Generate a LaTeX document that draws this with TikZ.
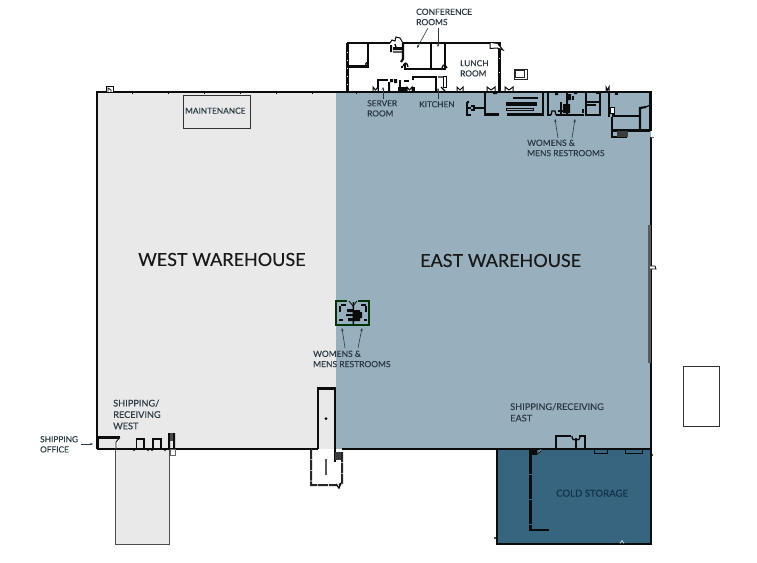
\documentclass[tikz,border=0pt]{standalone}
\usepackage{fontspec}
\setmainfont{Lato}[UprightFeatures={FakeBold=0.25}]
\usetikzlibrary{arrows.meta}
\definecolor{westc}{HTML}{E9E9E9}
\definecolor{eastc}{HTML}{98AFBD}
\definecolor{coldc}{HTML}{37657F}
\definecolor{wallc}{HTML}{0A0C0E}
\definecolor{txtc}{HTML}{2B3A44}
\definecolor{coldt}{HTML}{12324A}
\tikzset{
  x=1pt,y=-1pt,
  lab/.style={font=\fontsize{8.3}{10.2}\selectfont,text=txtc,align=left,inner sep=0pt,anchor=north west},
  labm/.style={lab,font=\fontsize{8.5}{10.3}\selectfont},
  labl/.style={lab,font=\fontsize{9.2}{11.4}\selectfont},
  big/.style={font=\fontsize{18}{20}\selectfont,text=black!90,inner sep=0pt},
  wall/.style={draw=wallc,line width=2.1pt},
  thick wall/.style={draw=wallc,line width=2.5pt},
  thin wall/.style={draw=wallc,line width=1.3pt},
  ptr/.style={draw=txtc,line width=.6pt,-{Stealth[length=3pt,width=2.4pt]}},
  door/.style={draw=wallc,line width=.9pt,fill=white},
  notch/.style={draw=wallc,line width=1pt,fill=white},
}
\begin{document}
\begin{tikzpicture}
\useasboundingbox (0,0) rectangle (757,562);
\fill[white] (0,0) rectangle (757,562);
% areas
\fill[westc] (97,92) rectangle (336,449);
\fill[eastc] (336,92) rectangle (651,449);
\fill[coldc] (497,449) rectangle (651,544);
\draw[draw=black!70,line width=.8pt,fill=westc] (115,449) rectangle (169,544);
\draw[draw=black!80,line width=.8pt] (683,366) rectangle (719,426);
\draw[draw=black!80,line width=1pt] (183,95) rectangle (250,128);
% perimeter
\draw[wall] (97,449) -- (97,92) -- (650.5,92) -- (650.5,131);
\draw[wall] (651,137) -- (651,449);
\foreach \xx in {132,168,204,240,276,312,356}{\fill[wallc] (\xx,91.5) rectangle (\xx+1,94);}
\draw[notch] (106,92) -- (106,86) -- (113,86) -- (113,92);
\draw[draw=wallc,line width=.7pt] (108,92) -- (108,88) -- (111,90) -- (111,92);
\fill[black!65] (648,225) rectangle (651,363);
\draw[door] (650,266) -- (655,266) -- (656,269) -- (650,269);
\draw[draw=black!60,line width=.7pt] (651,137) -- (654,137);
% south wall
\draw[wall] (97,449) -- (175,449);
\draw[wall] (175,449) -- (318,449);
\draw[wall] (342,449) -- (651,449);
% cold storage
\draw[wall] (497,449) -- (497,544) -- (651,544) -- (651,449);
\draw[wall,dash pattern=on 24pt off 1pt] (530.5,450) -- (530.5,530) -- (549,530);
\fill[wallc] (530,448) rectangle (537,455);
\draw[door] (537,454) -- (541,451) -- (541,449);
\draw[draw=wallc,line width=1pt] (594,449) rectangle (607,453.5) (625,449) rectangle (642,453.5);
\fill[wallc] (495,538) circle (1.2) (652,455) circle (1.2);
\draw[draw=white,line width=.5pt] (620,543.5) -- (622,540.5) -- (624,543.5);
% east shipping room
\draw[thin wall] (556,448) -- (556,436) -- (571,436) (579,436) -- (585,436) -- (585,448);
\draw[thin wall] (576,438) -- (576,448);
\draw[thin wall] (572,436) .. controls (572,440) and (574,440) .. (576,440) .. controls (578,440) and (580,440) .. (580,436);
% shipping office and west docks
\draw[wall] (98,449) -- (98,437.5) -- (120,437.5);
\draw[door] (120,437.5) -- (116,442) -- (116,449);
\draw[thin wall] (136.5,449) -- (136.5,439) -- (144,439) -- (144,449);
\draw[thin wall] (153,449) -- (153,439) -- (161,439) -- (161,449);
\fill[wallc] (168,433) rectangle (170,449) (173,433) rectangle (175,449);
\fill[wallc!75] (170,433) rectangle (173,441);
\draw[draw=black!60,line width=.6pt] (170,449) rectangle (175,455);
\fill[wallc] (134,450) circle (1) (148,450) circle (1) (152,450) circle (1) (165,450) circle (1);
% south vestibule
\draw[thick wall] (318,449) -- (318,388.5) -- (335,388.5) -- (335,462);
\fill[wallc!80] (335,452) rectangle (342,460);
\fill[black] (326,418.5) circle (1.5);
\draw[draw=black!85,line width=2pt,dash pattern=on 10pt off .8pt] (311,449) -- (311,485) -- (337,485) (342,452) -- (342,483) -- (339,485);
\fill[black!65] (325,459) rectangle (327,475);
\draw[thin wall] (336,484) -- (339,488) -- (341,483);
% central restrooms
\draw[draw=black!80!green,line width=1.4pt] (347,301) -- (336,301) -- (336,325) -- (369,325) -- (369,301) -- (358,301);
\fill[wallc] (352.5,302) rectangle (354,325) (347,309) rectangle (353,312) (346,314) rectangle (353,316) (348,318) rectangle (353,321) (354,310) rectangle (360,321) (360,312) rectangle (362,318);
\draw[thin wall] (341,305) -- (346,305) (361,305) -- (366,305) (339,320) -- (343,320) (364,320) -- (367,320) (340,306) -- (340,312) (366,306) -- (366,312);
\draw[draw=wallc,line width=.8pt] (349,301) -- (353,306) -- (357,301);
% north building
\draw[wall] (347.5,91) -- (347.5,43);
\foreach \yy in {52,60,68,76,84}{\fill[white] (346.6,\yy) rectangle (348.4,\yy+.6);}
\draw[wall] (346.5,43) -- (390,43);
\draw[wall] (403,43) -- (500.5,43);
\draw[wall] (499.5,43) -- (499.5,91);
\foreach \yy in {58,72}{\fill[white] (498.6,\yy) rectangle (500.4,\yy+.6);}
\draw[notch] (390,43) -- (392,40) -- (395,41) -- (396,37) -- (400,38) -- (403,43);
\fill[wallc] (390,45) rectangle (392,52) (393,47) rectangle (402,50);
\draw[thin wall] (393,52) -- (403,52) (395,44) -- (396,47);
\draw[wall] (403,43) -- (403,59) (403,59) -- (401,62);
\draw[wall] (401,67) -- (403,67) (405,64) -- (405,69) -- (445,69) -- (445,43);
\draw[wall] (431,43) -- (431,69);
\draw[thin wall] (403,66) .. controls (405,62) and (407,62) .. (408,67);
\draw[thin wall] (442,68) .. controls (443,64) and (445,64) .. (447,68);
\draw[wall] (368,43) -- (368,66.5) -- (347.5,66.5);
\draw[thin wall] (366,66) .. controls (365,63) and (367,62) .. (369,62);
% lower rooms
\draw[wall] (378,91) -- (378,80) -- (388,80);
\fill[wallc] (390,79) rectangle (393,82) (394,79) rectangle (397,83) (388,82) rectangle (390,91);
\draw[wall] (400,80) -- (400,91) (404,81) -- (409,81);
\draw[wall] (413,80) -- (413,77) -- (436,77) -- (436,91);
\fill[wallc] (398,87) rectangle (415,91);
\draw[door] (443,76) rectangle (446,87);
\draw[thin wall] (438,77) -- (443,77) (441,87) -- (445,91);
% door in north-east corner of the building
\draw[notch] (490,43) -- (490,48.5) -- (497,48) -- (503,50) -- (498,44);
\draw[draw=black!85,line width=.9pt] (514,69) rectangle (527,79);
\draw[draw=black!85,line width=.9pt] (515.5,70.5) rectangle (524,77);
% notches along north wall
\foreach \a/\b in {373/378,407/412,457/463,487/495,505/513,606/609}{
  \fill[white] (\a,87) rectangle (\b,91);
  \draw[draw=wallc,line width=1pt] (\a,91) -- (\a,87) -- ({(\a+\b)/2},90) -- (\b,87) -- (\b,91);
}
% east-side offices
\draw[wall] (467,102) -- (467,115) -- (471,115);
\draw[wall] (485,92) -- (485,114.5) -- (499,114.5);
\draw[thin wall] (474,108) -- (485,108) (467,108) -- (471,108);
\draw[thin wall] (471,106) -- (474,106) -- (474,110) -- (471,110);
\fill[wallc] (467,101) rectangle (469,103) (493,92) rectangle (497,94);
\draw[draw=wallc,line width=1pt] (513,97) rectangle (537,98.5);
\fill[wallc] (506,102) rectangle (537,105.5);
\draw[draw=wallc,line width=1pt] (506,108) rectangle (533,110);
\draw[wall] (507,114.5) -- (543,114.5) -- (543,92);
\draw[wall] (548,92) -- (548,115) -- (551,115);
\draw[wall] (556,115) -- (584,115);
\draw[thin wall] (551,115) -- (552,111) -- (555,111) -- (556,115);
\draw[thin wall] (561,102) -- (561,115) (558,111) -- (563,111);
\fill[wallc] (566,92) rectangle (568,115) (563,104) rectangle (570,113) (568,94) rectangle (571,100);
\fill[wallc] (572,96) rectangle (574,100);
\fill[wallc] (555,92) rectangle (558,95) (574,92) rectangle (577,94);
\draw[wall] (586,92) -- (586,115) -- (600,115) -- (600,92);
\draw[thin wall] (586,102) -- (600,102) (586,105) -- (596,105);
\draw[wall] (583,109) -- (583,113);
\fill[wallc] (596,92) rectangle (600,94);
\draw[wall] (609,92) -- (609,117);
\fill[wallc] (612,107) rectangle (615,117);
\draw[notch] (610,107) rectangle (614,113);
\draw[wall] (612,116) -- (640,116);
\draw[wall] (612,117) -- (612,137) -- (627,137);
\draw[wall] (640,130) -- (640,108) -- (646,107);
\draw[thin wall] (646,107) -- (650,105);
\draw[wall] (612,130.5) -- (650,130.5);
\fill[wallc!80] (617,131) rectangle (628,136.5);
\fill[wallc] (615,92) rectangle (618,95);
% text
\node[big,anchor=west] (west) at (138,259.5) {WEST WAREHOUSE};
\node[big,anchor=west] (east) at (420,260.5) {EAST WAREHOUSE};
\node[labm] (confl) at (416,8.5) {CONFERENCE\\ROOMS};
\node[lab] (lunch) at (460,60) {LUNCH\\ROOM};
\node[lab] (server) at (367,100) {SERVER\\ROOM};
\node[lab] (kitchen) at (419,101) {KITCHEN};
\node[lab] (maint) at (185,107.5) {MAINTENANCE};
\node[labm] (wr1) at (527,139.5) {WOMENS \&\\MENS RESTROOMS};
\node[labm] (wr2) at (313,350.5) {WOMENS \&\\MENS RESTROOMS};
\node[labl] (swest) at (113,399.5) {SHIPPING/\\RECEIVING\\WEST};
\node[labl] (seast) at (510,403) {SHIPPING/RECEIVING\\EAST};
\node[lab] (soff) at (40,436) {SHIPPING\\OFFICE};
\node[labl,text=coldt,font=\fontsize{9.6}{11}\selectfont] (cold) at (556,489.5) {COLD STORAGE};
% pointers
\coordinate (c1) at (417,48); \coordinate (c2) at (438,47);
\coordinate (c3) at (383,87); \coordinate (c4) at (438,88);
\coordinate (r1) at (555,119); \coordinate (r2) at (575,119);
\coordinate (r3) at (342,328); \coordinate (r4) at (362,328);
\coordinate (so) at (93,444);
\draw[ptr] (428,28) -- (c1);
\draw[ptr] (438,28) -- (c2);
\draw[ptr] (383,99) -- (c3);
\draw[ptr] (438,99) -- (c4);
\draw[ptr] (558,138) -- (r1);
\draw[ptr] (572,138) -- (r2);
\draw[ptr] (345,348) -- (r3);
\draw[ptr] (358,348) -- (r4);
\draw[ptr] (81,444) -- (so);
\end{tikzpicture}
\end{document}
